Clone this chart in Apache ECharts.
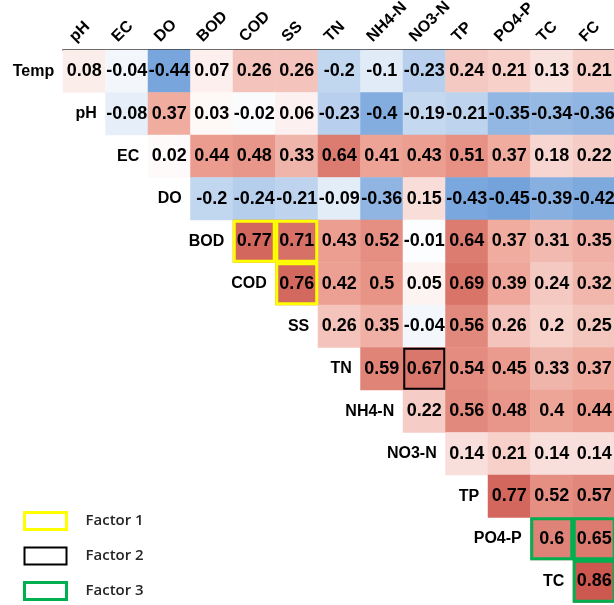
<!DOCTYPE html>
<html>
<head>
<meta charset="utf-8">
<script src="https://cdn.jsdelivr.net/npm/echarts@6/dist/echarts.min.js"></script>
<style>
  html, body { margin: 0; padding: 0; background: #fff; }
  #chart { width: 614px; height: 605px; }
</style>
</head>
<body>
<div id="chart"></div>
<script>
// Variables along the top (columns) and down the side (rows)
const cols = ['pH', 'EC', 'DO', 'BOD', 'COD', 'SS', 'TN', 'NH4-N', 'NO3-N', 'TP', 'PO4-P', 'TC', 'FC'];
const rows = ['Temp', 'pH', 'EC', 'DO', 'BOD', 'COD', 'SS', 'TN', 'NH4-N', 'NO3-N', 'TP', 'PO4-P', 'TC'];

// Correlation coefficients, each row starting at its diagonal column
const rTemp = [0.08, -0.04, -0.44, 0.07, 0.26, 0.26, -0.2, -0.1, -0.23, 0.24, 0.21, 0.13, 0.21];
const rPH   = [-0.08, 0.37, 0.03, -0.02, 0.06, -0.23, -0.4, -0.19, -0.21, -0.35, -0.34, -0.36];
const rEC   = [0.02, 0.44, 0.48, 0.33, 0.64, 0.41, 0.43, 0.51, 0.37, 0.18, 0.22];
const rDO   = [-0.2, -0.24, -0.21, -0.09, -0.36, 0.15, -0.43, -0.45, -0.39, -0.42];
const rBOD  = [0.77, 0.71, 0.43, 0.52, -0.01, 0.64, 0.37, 0.31, 0.35];
const rCOD  = [0.76, 0.42, 0.5, 0.05, 0.69, 0.39, 0.24, 0.32];
const rSS   = [0.26, 0.35, -0.04, 0.56, 0.26, 0.2, 0.25];
const rTN   = [0.59, 0.67, 0.54, 0.45, 0.33, 0.37];
const rNH4  = [0.22, 0.56, 0.48, 0.4, 0.44];
const rNO3  = [0.14, 0.21, 0.14, 0.14];
const rTP   = [0.77, 0.52, 0.57];
const rPO4  = [0.6, 0.65];
const rTC   = [0.86];
const rowValues = [rTemp, rPH, rEC, rDO, rBOD, rCOD, rSS, rTN, rNH4, rNO3, rTP, rPO4, rTC];

// Highlighted cells for each factor: [row, column]
const factor1Cells = [['BOD', 'COD'], ['BOD', 'SS'], ['COD', 'SS']];
const factor2Cells = [['TN', 'NO3-N']];
const factor3Cells = [['PO4-P', 'TC'], ['PO4-P', 'FC'], ['TC', 'FC']];
const factorNames = ['Factor 1', 'Factor 2', 'Factor 3'];
const factorColors = ['#FFFF00', '#000000', '#00B050'];
const factorWidths = [3, 2, 3];

const FONT = "'Liberation Sans', Arial, sans-serif";

// Heatmap cells [colIndex, rowIndex, value]
const cells = [];
rowValues.forEach((vals, r) => {
  vals.forEach((v, k) => cells.push([r + k, r, v]));
});

// Diverging blue-white-salmon ramp with white pinned at zero
const vMin = -0.45, vMax = 0.86;
const rampKeys = [
  [-0.45, [116, 163, 219]],
  [0, [255, 255, 255]],
  [0.43, [236, 158, 144]],
  [0.86, [204, 88, 80]]
];
function rampColor(v) {
  for (let k = 1; k < rampKeys.length; k++) {
    const [v0, c0] = rampKeys[k - 1], [v1, c1] = rampKeys[k];
    if (v <= v1 || k === rampKeys.length - 1) {
      const t = Math.max(0, Math.min(1, (v - v0) / (v1 - v0)));
      return 'rgb(' + c0.map((c, i) => Math.round(c + (c1[i] - c) * t)).join(',') + ')';
    }
  }
}
const rampStops = [];
const nStops = 132;
for (let i = 0; i < nStops; i++) {
  rampStops.push(rampColor(vMin + (vMax - vMin) * i / (nStops - 1)));
}

function boxSeries(name, list, color, width) {
  return {
    name: name,
    type: 'scatter',
    symbol: 'rect',
    symbolSize: 40,
    z: 5,
    silent: true,
    itemStyle: { color: 'rgba(0,0,0,0)', borderColor: color, borderWidth: width, opacity: 1 },
    data: list.map(([r, c]) => [cols.indexOf(c), rows.indexOf(r)])
  };
}

const chart = echarts.init(document.getElementById('chart'), null, { renderer: 'canvas' });
chart.setOption({
  backgroundColor: '#ffffff',
  animation: false,
  grid: [
    // correlation cells
    { left: 63, top: 50, width: 552.5, height: 552.5, containLabel: false, outerBoundsMode: 'none' },
    // header strip holding the slanted column names
    { left: 63, top: 0, width: 552.5, height: 50, containLabel: false, outerBoundsMode: 'none' }
  ],
  xAxis: [
    {
      type: 'category',
      gridIndex: 0,
      position: 'top',
      data: cols,
      axisLine: { show: true, lineStyle: { color: '#000', width: 1.5 } },
      axisTick: { show: false },
      axisLabel: { show: false },
      splitLine: { show: false }
    },
    { type: 'category', gridIndex: 1, data: cols, show: false }
  ],
  yAxis: [
    { type: 'category', gridIndex: 0, data: rows, inverse: true, show: false },
    { type: 'value', gridIndex: 1, min: 0, max: 1, show: false }
  ],
  visualMap: {
    show: false,
    type: 'continuous',
    min: vMin,
    max: vMax,
    dimension: 2,
    seriesIndex: 0,
    inRange: { color: rampStops }
  },
  legend: {
    orient: 'vertical',
    left: 23,
    top: 511,
    padding: 0,
    itemWidth: 42,
    itemHeight: 17,
    itemGap: 15,
    selectedMode: false,
    textStyle: {
      color: '#262626',
      fontSize: 15,
      lineHeight: 20,
      fontWeight: 600,
      fontFamily: "'Open Sans', sans-serif",
      padding: [0, 0, 0, 14]
    },
    data: factorNames.map((n, i) => ({
      name: n,
      icon: 'rect',
      itemStyle: { color: 'rgba(0,0,0,0)', borderColor: factorColors[i], borderWidth: factorWidths[i] }
    }))
  },
  series: [
    {
      type: 'heatmap',
      data: cells,
      silent: true,
      label: {
        show: true,
        color: '#000',
        fontSize: 18,
        fontWeight: 'bold',
        fontFamily: FONT,
        formatter: p => String(p.value[2])
      }
    },
    {
      // Row names sit just left of each row's diagonal cell
      type: 'scatter',
      symbolSize: 0,
      silent: true,
      itemStyle: { opacity: 1 },
      data: rows.map((n, i) => ({ value: [i, i], name: n })),
      label: {
        show: true,
        position: 'left',
        distance: 30,
        opacity: 1,
        color: '#000',
        fontSize: 16,
        fontWeight: 'bold',
        fontFamily: FONT,
        formatter: p => p.name
      }
    },
    {
      // Column names, slanted at 45 degrees above the header line
      type: 'scatter',
      xAxisIndex: 1,
      yAxisIndex: 1,
      symbolSize: 0,
      silent: true,
      clip: false,
      itemStyle: { opacity: 1 },
      data: cols.map((n, i) => ({ value: [i, 0], name: n })),
      label: {
        show: true,
        position: 'inside',
        rotate: 45,
        align: 'left',
        verticalAlign: 'bottom',
        offset: [-1, -8],
        opacity: 1,
        color: '#000',
        fontSize: 16,
        fontWeight: 'bold',
        fontFamily: FONT,
        formatter: p => p.name
      }
    },
    boxSeries(factorNames[0], factor1Cells, factorColors[0], factorWidths[0]),
    boxSeries(factorNames[1], factor2Cells, factorColors[1], factorWidths[1]),
    boxSeries(factorNames[2], factor3Cells, factorColors[2], factorWidths[2])
  ]
});
</script>
</body>
</html>
